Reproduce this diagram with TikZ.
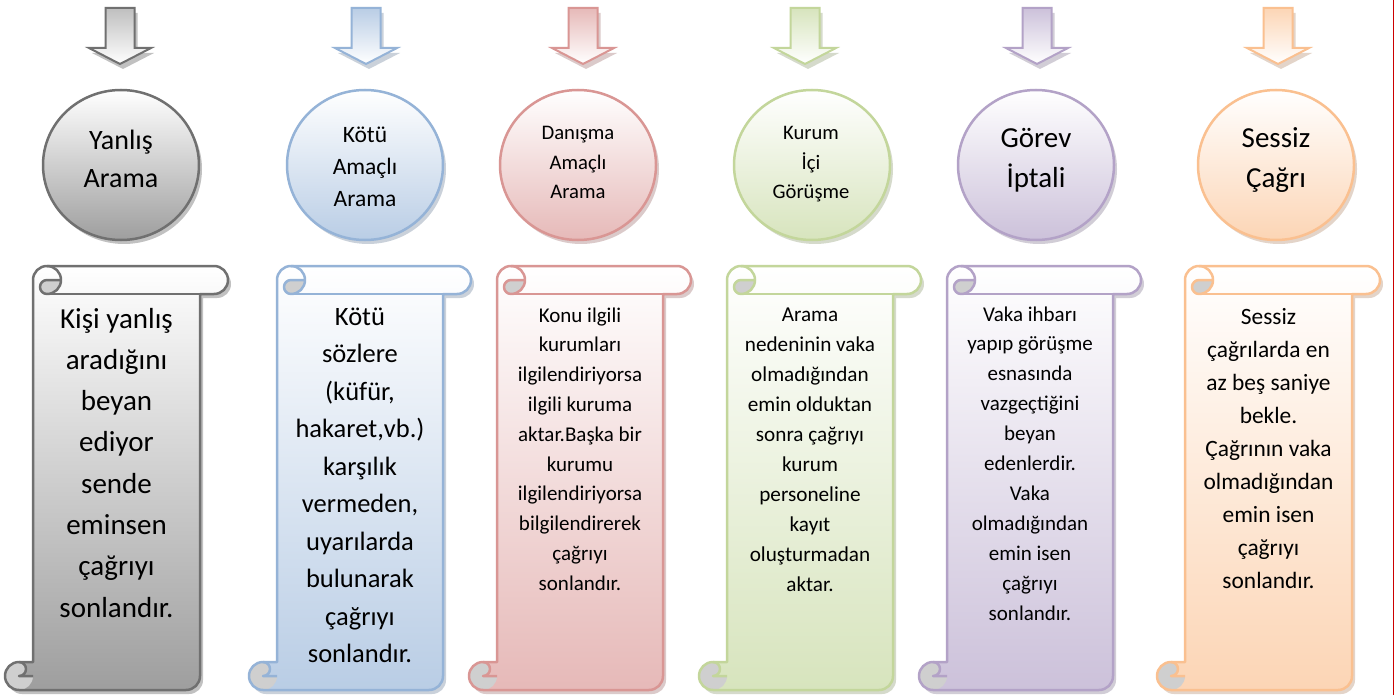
\documentclass[tikz,border=0pt]{standalone}
\usepackage{fontspec}
\setmainfont{Carlito}
\definecolor{grS}{HTML}{707070}\definecolor{grF}{HTML}{9E9E9E}\definecolor{grA}{HTML}{BFBFBF}
\definecolor{blS}{HTML}{95B3D7}\definecolor{blF}{HTML}{B9CDE5}
\definecolor{rdS}{HTML}{D99694}\definecolor{rdF}{HTML}{E6B9B8}
\definecolor{gnS}{HTML}{C3D69B}\definecolor{gnF}{HTML}{D7E4BD}
\definecolor{puS}{HTML}{B3A2C7}\definecolor{puF}{HTML}{CCC1DA}
\definecolor{orS}{HTML}{FAC090}\definecolor{orF}{HTML}{FCD5B5}
\definecolor{curl}{HTML}{CFCFCF}
\definecolor{edge}{HTML}{CC0000}
\tikzset{
  txt/.style={inner sep=0pt, text=black},
  scrollp/.style 2 args={insert path={
    (#1+28,662) -- (#1+28,280) arc[start angle=180,end angle=270,radius=14]
    -- (#2+14,266) arc[start angle=270,end angle=450,radius=14]
    -- (#2,294) -- (#2,676) arc[start angle=0,end angle=90,radius=14]
    -- (#1+14,690) arc[start angle=90,end angle=270,radius=14] -- cycle}},
  arrowp/.style={insert path={
    (#1-14.5,8) -- (#1+14.5,8) -- (#1+14.5,48) -- (#1+31,48) -- (#1,64)
    -- (#1-31,48) -- (#1-14.5,48) -- cycle}},
}
\newcommand\myscroll[4]{% L, x6, stroke, fill
  \fill[#3!70!black, opacity=.35, shift={(3,4)}, scrollp={#1}{#2}];
  \path[top color=white, bottom color=#4, scrollp={#1}{#2}];
  \fill[curl] (#1+56,280) arc[start angle=0,end angle=90,radius=14]
     arc[start angle=90,end angle=270,radius=7] -- cycle;
  \fill[curl] (#1+28,676) arc[start angle=0,end angle=270,radius=14]
     arc[start angle=270,end angle=450,radius=7] -- cycle;
  \draw[#3, line width=2.5pt, line join=round, scrollp={#1}{#2}];
  \draw[#3, line width=2.5pt, line join=round]
     (#1+42,266) arc[start angle=270,end angle=450,radius=14]
     arc[start angle=90,end angle=270,radius=7] -- (#1+56,280);
  \draw[#3, line width=2.5pt] (#2,294) -- (#1+42,294);
  \draw[#3, line width=2.5pt, line join=round]
     (#1+14,662) arc[start angle=270,end angle=450,radius=7] -- (#1+28,676);
}
\newcommand\mybubble[3]{% cx, stroke, fill
  \fill[#2!70!black, opacity=.35] (#1+3,169) ellipse[x radius=78,y radius=75];
  \draw[#2, line width=2.5pt, top color=white, bottom color=#3] (#1,165) ellipse[x radius=78,y radius=75];
}
\newcommand\myarrow[3]{% cx, stroke, fill
  \fill[#2!70!black, opacity=.35, shift={(3,5)}, arrowp=#1];
  \draw[#2, line width=2pt, line join=miter, top color=#3, bottom color=white, arrowp=#1];
}
\newcommand\textlines[6]{% name, x, y0, dy, size, list
  \foreach \lineT [count=\i] in {#6} {%
    \pgfmathsetmacro\yy{#3+(\i-1)*#4}
    \node[txt, font=\fontsize{#5}{#5}\selectfont, anchor=base] (#1-\i) at (#2,\yy) {\lineT};
  }}
\begin{document}
\begin{tikzpicture}[x=1pt,y=-1pt]
\useasboundingbox (0,0) rectangle (1395,695);
\fill[white] (0,0) rectangle (1395,695);
% arrows
\myarrow{120}{grS}{grA}
\myarrow{366}{blS}{blF}
\myarrow{583}{rdS}{rdF}
\myarrow{805}{gnS}{gnF}
\myarrow{1037}{puS}{puF}
\myarrow{1278}{orS}{orF}
% circles
\mybubble{121}{grS}{grF}
\mybubble{365}{blS}{blF}
\mybubble{578}{rdS}{rdF}
\mybubble{812}{gnS}{gnF}
\mybubble{1036}{puS}{puF}
\mybubble{1276}{orS}{orF}
% scrolls
\myscroll{5}{200}{grS}{grF}
\myscroll{249}{443}{blS}{blF}
\myscroll{469}{663}{rdS}{rdF}
\myscroll{699}{893}{gnS}{gnF}
\myscroll{919}{1113}{puS}{puF}
\myscroll{1157}{1352}{orS}{orF}
% circle texts
\textlines{ca}{121}{150}{38}{28}{Yanlış,Arama}
\textlines{cb}{365}{143}{32}{23.5}{Kötü,Amaçlı,Arama}
\textlines{cc}{578}{140}{29.5}{20.7}{Danışma,Amaçlı,Arama}
\textlines{cd}{811}{140}{29.5}{20.6}{Kurum,İçi,Görüşme}
\textlines{ce}{1036}{148}{40}{29}{Görev,İptali}
\textlines{cf}{1276}{148}{40}{29}{Sessiz,Çağrı}
% scroll texts
\textlines{sa}{116.5}{328}{41.3}{29}{Kişi yanlış,aradığını,beyan,ediyor,sende,eminsen,çağrıyı,sonlandır.}
\textlines{sb}{360}{325}{37.5}{26.5}{Kötü,sözlere,{(küfür,},{hakaret,vb.)},karşılık,{vermeden,},uyarılarda,bulunarak,çağrıyı,sonlandır.}
\textlines{sc}{580}{322}{29.8}{21}{Konu ilgili,kurumları,ilgilendiriyorsa,ilgili kuruma,aktar.Başka bir,kurumu,ilgilendiriyorsa,bilgilendirerek,çağrıyı,sonlandır.}
\textlines{sd}{810}{321}{30.1}{21.2}{Arama,nedeninin vaka,olmadığından,emin olduktan,sonra çağrıyı,kurum,personeline,kayıt,oluşturmadan,aktar.}
\textlines{se}{1030}{321}{29.9}{21}{Vaka ihbarı,yapıp görüşme,esnasında,vazgeçtiğini,beyan,edenlerdir.,Vaka,olmadığından,emin isen,çağrıyı,sonlandır.}
\textlines{sf}{1268.5}{324}{33}{23.4}{Sessiz,çağrılarda en,az beş saniye,bekle.,Çağrının vaka,olmadığından,emin isen,çağrıyı,sonlandır.}
% right edge line
\draw[edge, line width=1.5pt] (1393.5,0) -- (1393.5,695);
\end{tikzpicture}
\end{document}
